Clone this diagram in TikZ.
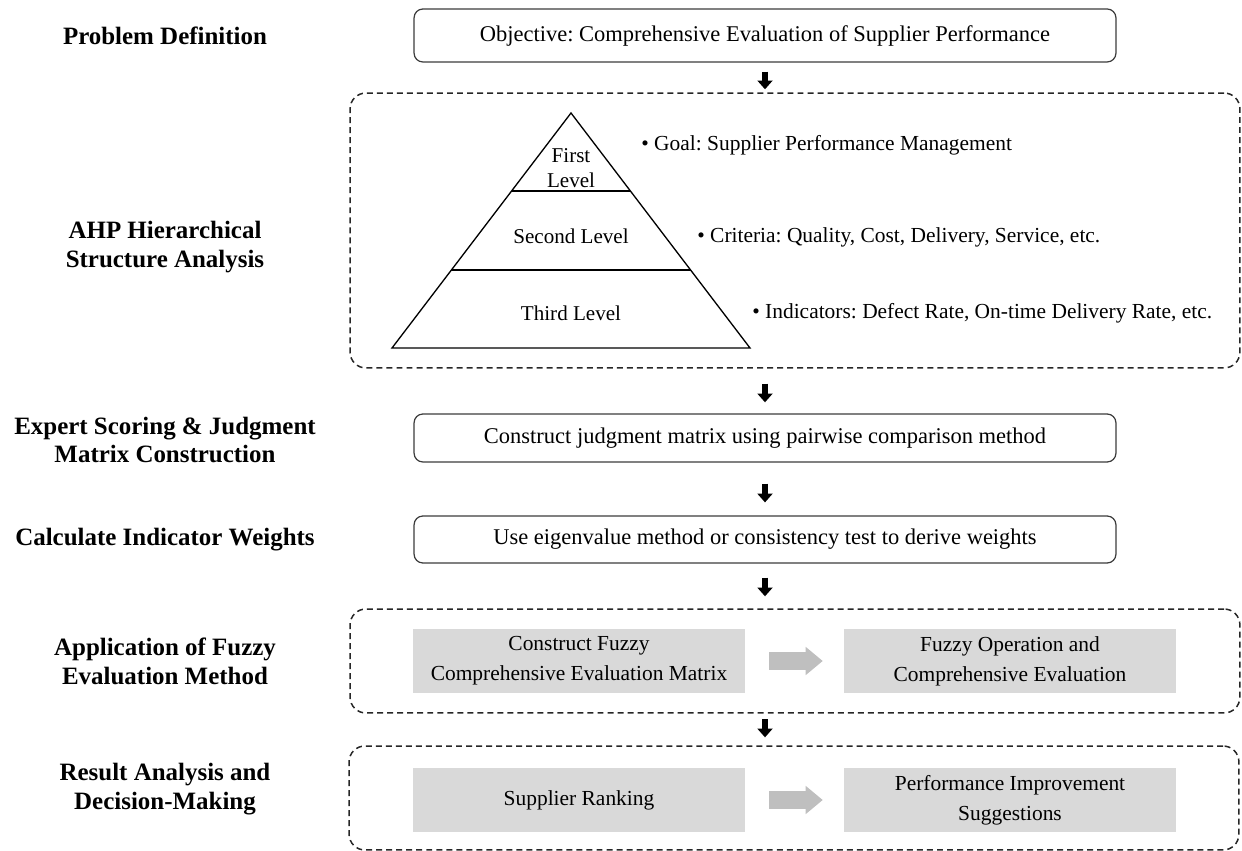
\documentclass[tikz,border=0pt]{standalone}
\usepackage{fontspec}
\setmainfont{Liberation Serif}
\usetikzlibrary{positioning, arrows.meta, calc}
\definecolor{boxgray}{RGB}{217,217,217}
\definecolor{arrowgray}{RGB}{191,191,191}
\definecolor{edgegray}{RGB}{60,60,60}
\frenchspacing

\begin{document}
\begin{tikzpicture}[x=0.02cm, y=-0.02cm,
    stage/.style={font=\fontsize{14.2}{16.4}\selectfont\bfseries, align=center},
    mainbox/.style={draw=edgegray, line width=0.7pt, rounded corners=5pt, minimum width=14.04cm, font=\fontsize{12.8}{15}\selectfont},
    groupbox/.style={draw=black!85, dash pattern=on 3.4pt off 2.3pt, line width=0.85pt, rounded corners=9pt, minimum width=17.8cm},
    graybox/.style={fill=boxgray, minimum width=6.64cm, minimum height=1.28cm, align=center, font=\fontsize{12.2}{17}\selectfont},
    flow/.style={line width=3.4pt, -{Triangle[width=8.5pt, length=5pt]}},
    fatarrow/.style={draw=arrowgray, line width=10.2pt, -{Triangle[width=15.4pt, length=9.7pt]}},
    tierlabel/.style={font=\fontsize{12}{14.2}\selectfont, align=center},
    pointtext/.style={anchor=west, inner sep=0pt, font=\fontsize{12.2}{14}\selectfont}]
\useasboundingbox (0,0) rectangle (1242,851);

% stage names on the left
\node[stage] (lprob) at (165,35.5) {Problem Definition};
\node[stage] (lahp) at (165,247) {AHP Hierarchical\\Structure Analysis};
\node[stage] (lexp) at (165,440) {Expert Scoring \& Judgment\\Matrix Construction};
\node[stage] (lcalc) at (165,540) {Calculate Indicator Weights};
\node[stage] (lfuzzy) at (165,661) {Application of Fuzzy\\Evaluation Method};
\node[stage] (lres) at (165,789) {Result Analysis and\\Decision-Making};

% main column
\node[mainbox, minimum height=1.06cm] (obj) at (765,35.5) {Objective: Comprehensive Evaluation of Supplier Performance};
\node[groupbox, minimum height=5.5cm] (ahp) at (795,230.5) {};
\node[mainbox, minimum height=0.96cm] (judge) at (765,438) {Construct judgment matrix using pairwise comparison method};
\node[mainbox, minimum height=0.94cm] (weight) at (765,539.5) {Use eigenvalue method or consistency test to derive weights};
\node[groupbox, minimum height=2.08cm] (fuzzy) at (795,661) {};
\node[groupbox, minimum height=2.08cm] (result) at (794,798) {};

% pyramid
\coordinate (apex) at (571,113);
\coordinate (bl) at (392,348);
\coordinate (br) at (750,348);
\draw[line width=0.75pt] (apex) -- (br) -- (bl) -- cycle;
\draw[line width=0.75pt] ($(apex)!0.332!(bl)$) -- ($(apex)!0.332!(br)$);
\draw[line width=0.75pt] ($(apex)!0.668!(bl)$) -- ($(apex)!0.668!(br)$);
\node[tierlabel] (first) at (571,168) {First\\Level};
\node[tierlabel] (second) at (571,236) {Second Level};
\node[tierlabel] (third) at (571,313) {Third Level};
\node[pointtext] (goal) at (641,145) {\textbullet\ Goal: Supplier Performance Management};
\node[pointtext] (crit) at (697,237) {\textbullet\ Criteria: Quality, Cost, Delivery, Service, etc.};
\node[pointtext] (ind) at (752,313) {\textbullet\ Indicators: Defect Rate, On-time Delivery Rate, etc.};

% fuzzy evaluation and results
\node[graybox] (fuzzymat) at (579,661) {Construct Fuzzy\\Comprehensive Evaluation Matrix};
\node[graybox] (fuzzyop) at (1010,661) {Fuzzy Operation and\\Comprehensive Evaluation};
\node[graybox] (rank) at (579,800) {Supplier Ranking};
\node[graybox] (improve) at (1010,800) {Performance Improvement\\Suggestions};
\draw[fatarrow, shorten <=13.6pt, shorten >=11.9pt] (fuzzymat) -- (fuzzyop);
\draw[fatarrow, shorten <=13.6pt, shorten >=11.9pt] (rank) -- (improve);

% flow arrows
\draw[flow, shorten <=5.1pt, shorten >=1.7pt] (obj.south) -- (obj.south |- ahp.north);
\draw[flow, shorten <=8.5pt, shorten >=6.3pt] (judge.north |- ahp.south) -- (judge.north);
\draw[flow, shorten <=12pt, shorten >=7.4pt] (judge.south) -- (weight.north);
\draw[flow, shorten <=8pt, shorten >=6.8pt] (weight.south) -- (weight.south |- fuzzy.north);
\draw[flow, shorten <=3pt, shorten >=4.5pt] (weight.south |- fuzzy.south) -- (weight.south |- result.north);
\end{tikzpicture}
\end{document}
